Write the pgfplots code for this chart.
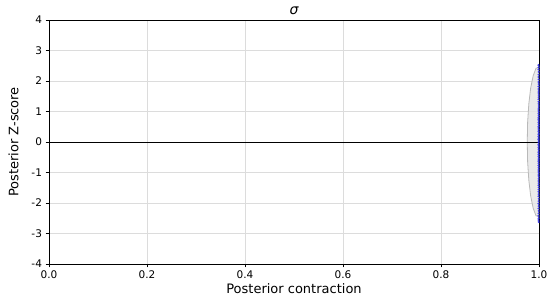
\documentclass[border=0pt]{standalone}
\usepackage{fontspec}
\setmainfont{DejaVu Sans}
\usepackage{pgfplots}
\pgfplotsset{compat=1.18}

\definecolor{gridgray}{RGB}{220,220,220}
\definecolor{ellfill}{RGB}{230,230,230}
\definecolor{ellline}{RGB}{185,185,185}
\definecolor{ptblue}{RGB}{40,40,220}

\begin{document}
\begin{tikzpicture}[x=1pt,y=1pt]
% fixes the page size to 550 x 302
\path[use as bounding box] (-49,-38) rectangle (501,264);
\begin{axis}[
    at={(0,0)}, anchor=south west,
    scale only axis,
    width=490pt, height=244pt,
    xmin=0, xmax=1, ymin=-4, ymax=4,
    xtick={0,0.2,0.4,0.6,0.8,1.0},
    ytick={-4,-3,-2,-1,0,1,2,3,4},
    xticklabel style={/pgf/number format/.cd, fixed, fixed zerofill, precision=1},
    /pgf/number format/assume math mode=true,
    tick label style={font=\fontsize{10.5}{12}\selectfont},
    grid=major,
    major grid style={gridgray, line width=0.8pt},
    axis line style={black, line width=0.8pt},
    tick style={black, line width=0.8pt},
    tick align=outside,
    xtick pos=left, ytick pos=left,
    major tick length=3.5pt,
    xlabel={Posterior contraction},
    ylabel={Posterior Z-score},
    xlabel style={font=\fontsize{13}{15}\selectfont, yshift=2pt},
    ylabel style={font=\fontsize{13}{15}\selectfont, yshift=6pt},
    title={\itshape σ},
    title style={font=\fontsize{14}{16}\selectfont, yshift=-4pt},
    clip=true,
]
% gray contour of the posterior (left half, right half is clipped)
\addplot[fill=ellfill, draw=ellline, line width=0.8pt, fill opacity=0.85] coordinates {
    (1.0015,2.5) (0.9994,2.45) (0.9938,2.415) (0.9880,2.165) (0.9830,1.768)
    (0.9792,1.25) (0.9768,0.647) (0.9760,0) (0.9768,-0.647) (0.9792,-1.25)
    (0.9830,-1.768) (0.9880,-2.165) (0.9938,-2.415) (0.9994,-2.45) (1.0015,-2.5)
} -- cycle;
\addplot[black, line width=0.8pt] coordinates {(0,0) (1,0)};
% draws of posterior z-score at contraction close to 1
\addplot[only marks, mark=*, mark size=0.9pt, ptblue, opacity=0.75] coordinates {
    (0.9990,2.52) (0.9993,2.45) (0.9991,2.38) (0.9994,2.30) (0.9992,2.21)
    (0.9990,2.13) (0.9993,2.05) (0.9991,1.97) (0.9994,1.90) (0.9992,1.82)
    (0.9990,1.74) (0.9993,1.67) (0.9991,1.61) (0.9994,1.54) (0.9992,1.47)
    (0.9990,1.40) (0.9993,1.32) (0.9991,1.25) (0.9994,1.18) (0.9992,1.11)
    (0.9990,1.05) (0.9993,0.99) (0.9991,0.93) (0.9994,0.87) (0.9992,0.81)
    (0.9990,0.75) (0.9993,0.69) (0.9991,0.63) (0.9994,0.57) (0.9992,0.51)
    (0.9990,0.46) (0.9993,0.40) (0.9991,0.35) (0.9994,0.29) (0.9992,0.24)
    (0.9990,0.18) (0.9993,0.13) (0.9991,0.08) (0.9994,0.03) (0.9992,-0.02)
    (0.9990,-0.08) (0.9993,-0.13) (0.9991,-0.19) (0.9994,-0.24) (0.9992,-0.30)
    (0.9990,-0.35) (0.9993,-0.41) (0.9991,-0.47) (0.9994,-0.53) (0.9992,-0.59)
    (0.9990,-0.65) (0.9993,-0.71) (0.9991,-0.77) (0.9994,-0.83) (0.9992,-0.89)
    (0.9990,-0.95) (0.9993,-1.01) (0.9991,-1.08) (0.9994,-1.14) (0.9992,-1.21)
    (0.9990,-1.28) (0.9993,-1.35) (0.9991,-1.42) (0.9994,-1.49) (0.9992,-1.56)
    (0.9990,-1.63) (0.9993,-1.71) (0.9991,-1.78) (0.9994,-1.86) (0.9992,-1.94)
    (0.9990,-2.02) (0.9993,-2.10) (0.9991,-2.18) (0.9994,-2.26) (0.9992,-2.34)
    (0.9990,-2.42) (0.9993,-2.50) (0.9991,-2.56) (0.9994,-2.62)
};
\end{axis}
\end{tikzpicture}
\end{document}
